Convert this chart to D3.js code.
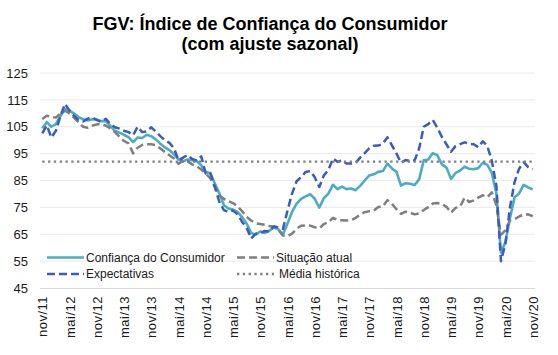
<!DOCTYPE html>
<html>
<head>
<meta charset="utf-8">
<script src="https://cdn.jsdelivr.net/npm/d3@7"></script>
<style>
  html, body { margin: 0; padding: 0; background: #fff; }
  svg { display: block; font-family: "Liberation Sans", Arial, sans-serif; }
</style>
</head>
<body>
<svg id="chart" width="558" height="355"></svg>
<script>
// ---- Data ----
const monthNames = ["jan","fev","mar","abr","mai","jun","jul","ago","set","out","nov","dez"];
const startMonth = 10, startYear = 2011, nMonths = 109; // nov/11 .. nov/20
const categories = [];
for (let k = 0; k < nMonths; k++) {
  const m = (startMonth + k) % 12, yr = startYear + Math.floor((startMonth + k) / 12);
  categories.push(monthNames[m] + "/" + String(yr).slice(2));
}
const tickLabels = ["nov/11","mai/12","nov/12","mai/13","nov/13","mai/14","nov/14","mai/15","nov/15","mai/16","nov/16","mai/17","nov/17","mai/18","nov/18","mai/19","nov/19","mai/20","nov/20"];
const yTicks = [45,55,65,75,85,95,105,115,125];

const confianca = [104.4,106.7,105,106,109,111.6,111,109.9,108.6,107.8,
  107.3,107.8,107.7,107.1,107.1,105.3,103.5,102.8,102,101.1,
  99.3,101,100.8,102,101.5,100.3,98.7,97.3,96.3,94.8,
  92.8,92.2,92.8,92.5,92.2,90.7,88.2,87.6,83.9,80.2,
  75.8,74.6,74.2,73.3,71.4,69,65.5,64.8,66,65.5,
  66.3,67.6,66.8,64.9,69,73.3,76.4,78.2,79.1,79.9,
  78.2,74.9,78.4,80.1,83.4,81.8,82.7,81.8,82,81.4,
  83,85,86.9,87.3,88.2,88.5,91.3,89.5,88.2,83.1,
  84,83.8,83.3,85.5,92.5,92.8,95.2,94.4,91,89.8,
  85.6,87.8,88.7,90.1,89.4,89.2,89.6,91.6,90.8,87.8,
  80.2,58.2,62.1,71.1,78.8,80.2,83.4,82.4,81.7];

const situacao = [107.9,109.1,108.7,108.4,110,111,110,108.4,106.6,105,
  104.6,105.4,105.9,105.9,105.4,104.4,103,101.3,99.7,98.8,
  95.1,97.2,98.2,98.5,98.5,98.2,96.9,95.6,94.4,93.2,
  91.2,92.4,92.2,91,90.3,89.1,87.6,85.8,82.6,79.4,
  78.2,77.3,76.6,75.3,73.6,71.5,70.1,69.1,68.8,68.5,
  68.1,67.8,66.6,64.5,64.3,65.2,67,68.2,68.3,68.2,
  67.6,67.2,68.8,69.5,71.1,70.3,70.2,70.1,70.3,71.1,
  72.3,73.2,73.6,73.8,75.1,75.3,77.7,76.3,74.3,72.6,
  73.4,73,72.4,72.8,74,75.1,76.4,76.6,76.3,75.2,
  73,74.8,75.3,78.6,77,77.6,78.6,79.5,78.8,80.6,
  75.8,64.8,66.5,70.2,70.6,71.6,72.3,72.4,71.7];

const expectativas = [102.5,105.5,101,103.5,109,113.5,111,109,107.5,107,
  108,108.5,107.5,106.8,108,106,104.8,104.3,103.5,103,
  101.8,105,103,103.3,104.8,103.2,101.5,100,99,97,
  92.5,93.5,94.5,93,92.5,94,87.5,87.8,82.6,77,
  74,73.3,73.8,72.4,69.6,67.5,63.4,65.2,65.5,66.2,
  66,68,67.5,67,73.8,80.1,84.7,86.2,88.2,88.5,
  86.2,82.6,86.9,88.8,93.2,92,92.5,91.3,91.3,91.5,
  93.5,95.2,97,97.9,98,98.7,101.1,98.1,95,91.6,
  92.6,92.3,92.5,97,105,106,107.5,104.6,101.2,98.5,
  95.7,97.8,98.5,99.2,98.7,98.5,97.4,99.6,97.8,92.3,
  83,55,61.6,75.1,84.4,89.4,91.8,90,89.2];

const mediaHistorica = 92;

const seriesNames = ["Confiança do Consumidor","Situação atual","Expectativas","Média histórica"];

// ---- Layout ----
const svg = d3.select("#chart");
const plotLeft = 40, plotRight = 535, plotTop = 73, plotBottom = 288;

const x = d3.scalePoint().domain(categories).range([plotLeft, plotRight]).padding(0.5);
const y = d3.scaleLinear().domain([45, 125]).range([plotBottom, plotTop]);

const styles = [
  { color: "#4BACC6", width: 2.6, dash: null },
  { color: "#7F7F7F", width: 2.5, dash: "8,4" },
  { color: "#3A5CC0", width: 2.5, dash: "8,4" },
  { color: "#7F7F7F", width: 2.3, dash: "2.3,3.5" }
];

// Title
svg.append("text").attr("x", 270).attr("y", 30).attr("text-anchor", "middle")
  .attr("font-size", 18).attr("font-weight", "bold").attr("fill", "#000")
  .text("FGV: Índice de Confiança do Consumidor");
svg.append("text").attr("x", 270).attr("y", 50).attr("text-anchor", "middle")
  .attr("font-size", 18).attr("font-weight", "bold").attr("fill", "#000")
  .text("(com ajuste sazonal)");

// Gridlines
svg.append("g").selectAll("line").data(yTicks.filter(d => d !== 45)).join("line")
  .attr("x1", plotLeft).attr("x2", plotRight)
  .attr("y1", d => y(d)).attr("y2", d => y(d))
  .attr("stroke", "#EBEBEB").attr("stroke-width", 1);

// Y axis labels
const yAxis = d3.axisLeft(y).tickValues(yTicks).tickSize(0).tickPadding(0).tickFormat(d3.format("d"));
const gy = svg.append("g").attr("transform", `translate(${28},0)`).call(yAxis);
gy.select(".domain").remove();
gy.selectAll("text").attr("font-size", 13).attr("fill", "#1a1a1a")
  .attr("font-family", "'Liberation Sans', Arial, sans-serif");

// X axis
const xAxis = d3.axisBottom(x).tickValues(tickLabels).tickSize(0).tickPadding(0);
const gx = svg.append("g").attr("transform", `translate(0,${plotBottom})`).call(xAxis);
gx.select(".domain").attr("stroke", "#D9D9D9").attr("stroke-width", 1)
  .attr("d", `M${plotLeft},0.5H${plotRight}`);
gx.selectAll("text")
  .attr("font-size", 13).attr("fill", "#1a1a1a")
  .attr("font-family", "'Liberation Sans', Arial, sans-serif")
  .attr("letter-spacing", "0.5px")
  .attr("text-anchor", "end")
  .attr("transform", "rotate(-90)")
  .attr("x", -8).attr("y", 0).attr("dy", "0.36em");

// Lines
const line = d3.line().x((d, i) => x(categories[i])).y(d => y(d)).curve(d3.curveLinear);
const dataSeries = [confianca, situacao, expectativas, categories.map(() => mediaHistorica)];
dataSeries.forEach((vals, k) => {
  svg.append("path").datum(vals)
    .attr("d", line)
    .attr("fill", "none")
    .attr("stroke", styles[k].color)
    .attr("stroke-width", styles[k].width)
    .attr("stroke-dasharray", styles[k].dash)
    .attr("stroke-linejoin", "round");
});

// Legend
const legendPos = [
  { lx: 47, ly: 257.5 }, { lx: 237, ly: 257.5 },
  { lx: 47, ly: 274 }, { lx: 237, ly: 274 }
];
seriesNames.forEach((name, k) => {
  const p = legendPos[k];
  svg.append("line").attr("x1", p.lx).attr("x2", p.lx + 37)
    .attr("y1", p.ly).attr("y2", p.ly)
    .attr("stroke", styles[k].color).attr("stroke-width", styles[k].width)
    .attr("stroke-dasharray", styles[k].dash);
  svg.append("text").attr("x", p.lx + 39 + (k === 3 ? 3 : 0)).attr("y", p.ly).attr("dy", "0.35em")
    .attr("font-size", 12).attr("fill", "#1a1a1a").text(name);
});
</script>
</body>
</html>
